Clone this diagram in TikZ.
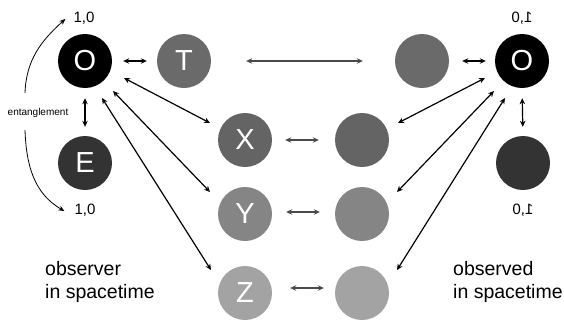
\documentclass[tikz,border=0pt]{standalone}
\usepackage{fontspec}
\setmainfont{Liberation Sans}
\usetikzlibrary{arrows.meta}
\definecolor{cblack}{HTML}{000000}
\definecolor{cdark}{HTML}{333333}
\definecolor{cT}{HTML}{6A6A6A}
\definecolor{cX}{HTML}{646464}
\definecolor{cY}{HTML}{858585}
\definecolor{cZ}{HTML}{A3A3A3}
\definecolor{carrowgray}{HTML}{4A4A4A}
\tikzset{
  ball/.style={circle, minimum size=54pt, inner sep=0pt, text=white, font=\fontsize{29}{30}\selectfont},
  tip/.tip={Stealth[length=6pt,width=5.5pt,inset=2pt]},
  blk/.style={tip-tip, line width=1.2pt, black},
  gry/.style={tip-tip, line width=1.2pt, carrowgray},
  lab/.style={font=\fontsize{15}{17}\selectfont, inner sep=0pt},
  big/.style={font=\fontsize{19.5}{23}\selectfont, inner sep=0pt, align=left, anchor=north west},
  thin/.style={-{Stealth[length=6pt,width=5pt,inset=2pt]}, line width=0.8pt, black}
}
\begin{document}
\begin{tikzpicture}[x=1pt,y=-1pt]
\useasboundingbox (0,0) rectangle (564,322);
% left column
\node[ball, fill=cblack] (O) at (85,61) {O};
\node[ball, fill=cdark] (E) at (85,163) {E};
\node[ball, fill=cT] (T) at (184,61) {T};
\node[ball, fill=cX] (X) at (245,140) {X};
\node[ball, fill=cY] (Y) at (245,214) {Y};
\node[ball, fill=cZ] (Z) at (245,293) {Z};
% right column
\node[ball, fill=cT] (Tr) at (422,61) {};
\node[ball, fill=cX] (Xr) at (362,140) {};
\node[ball, fill=cY] (Yr) at (362,214) {};
\node[ball, fill=cZ] (Zr) at (362,293) {};
\node[ball, fill=cblack] (Or) at (522,61) {O};
\node[ball, fill=cdark] (Er) at (523,163) {};
% labels
\node[lab] (l1) at (84,18) {1,0};
\node[lab] (l2) at (85,210) {1,0};
\node[lab] (r1) at (522,18) {\scalebox{-1}[1]{1,0}};
\node[lab] (r2) at (523,210) {\scalebox{-1}[1]{1,0}};
\node[font=\fontsize{10}{12}\selectfont, inner sep=0pt] (ent) at (38,113) {entanglement};
\node[big] (obs) at (45,261) {observer\\in spacetime};
\node[big] (obd) at (453,261) {observed\\in spacetime};
% curved arrows
\coordinate (c1) at (25,93);
\coordinate (c2) at (25,130);
\draw[thin] (c1) to[out=88, in=222] ([xshift=-8pt,yshift=-1pt]l1.west);
\draw[thin] (c2) to[out=-88, in=150] ([xshift=-10pt,yshift=-1pt]l2.west);
% black arrows left
\draw[blk, shorten <=11pt, shorten >=10pt] (O.east) -- (T.west);
\draw[blk, shorten <=10pt, shorten >=9pt] (O.south) -- (E.north);
\draw[blk] ([shift={(39,17)}]O.center) -- ([shift={(-35,-17)}]X.center);
\draw[blk] ([shift={(28,30)}]O.center) -- ([shift={(-35,-22)}]Y.center);
\draw[blk] ([shift={(17,37)}]O.center) -- ([shift={(-34,-23)}]Z.center);
% black arrows right
\draw[blk, shorten <=13pt, shorten >=9pt] (Tr.east) -- (Or.west);
\draw[blk, shorten <=10pt, shorten >=9pt] (Or.south) -- (Er.north);
\draw[blk] ([shift={(-37,17)}]Or.center) -- ([shift={(36,-17)}]Xr.center);
\draw[blk] ([shift={(-28,30)}]Or.center) -- ([shift={(35,-22)}]Yr.center);
\draw[blk] ([shift={(-17,37)}]Or.center) -- ([shift={(35,-23)}]Zr.center);
% gray arrows
\draw[gry, shorten <=35pt, shorten >=32pt] (T.east) -- (Tr.west);
\draw[gry, shorten <=13pt, shorten >=16pt] (X.east) -- (Xr.west);
\draw[gry, shorten <=14pt, shorten >=15pt] ([yshift=2pt]Y.east) -- ([yshift=2pt]Yr.west);
\draw[gry, shorten <=18pt, shorten >=11pt] ([yshift=5pt]Z.east) -- ([yshift=5pt]Zr.west);
\end{tikzpicture}
\end{document}
